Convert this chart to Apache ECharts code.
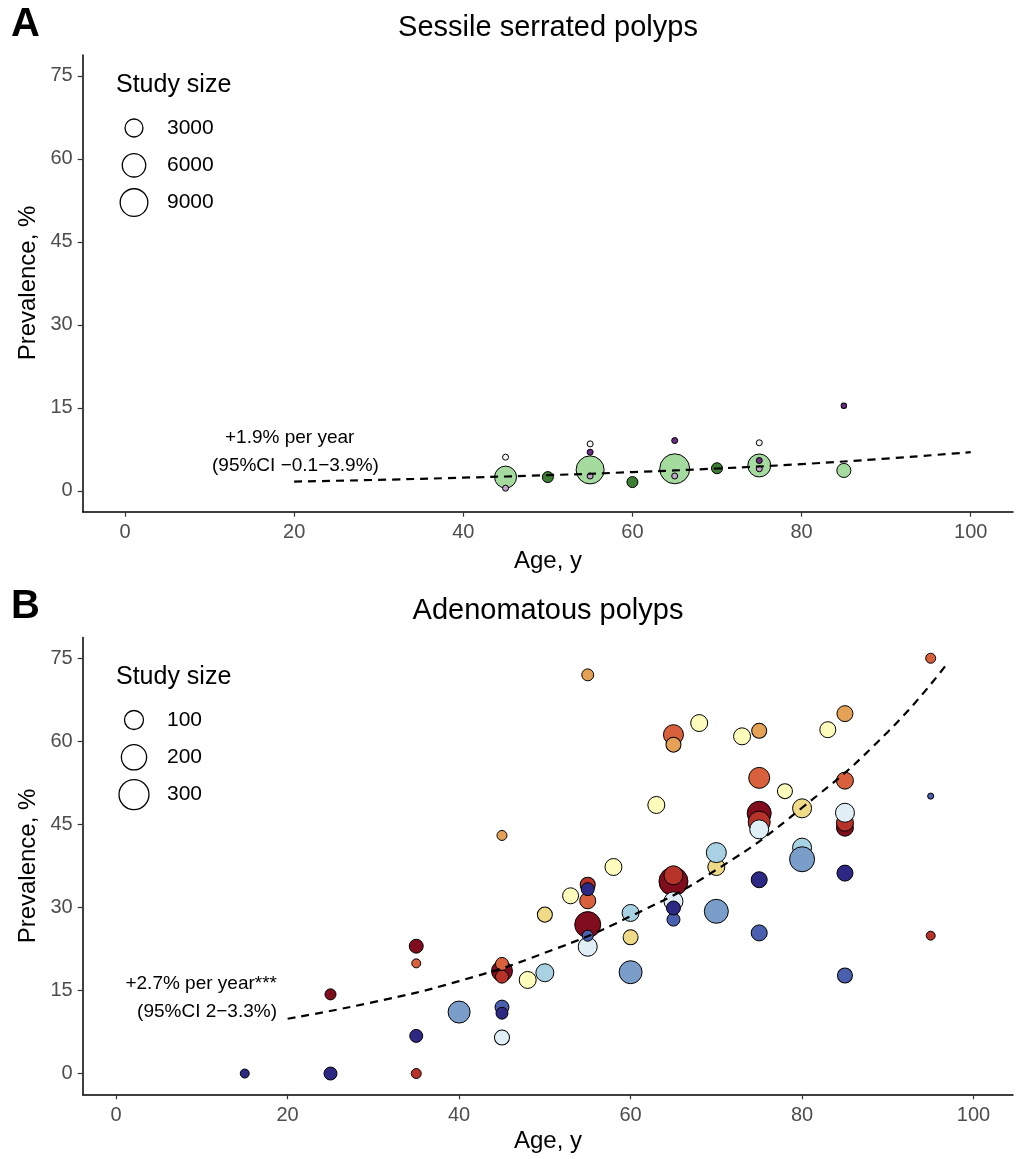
<!DOCTYPE html>
<html><head><meta charset="utf-8">
<script src="https://cdn.jsdelivr.net/npm/echarts@6/dist/echarts.min.js"></script>
<style>html,body{margin:0;padding:0;background:#fff}#c{width:1019px;height:1159px}</style>
</head><body><div id="c"></div>
<script>
// ---------- DATA ----------
// ticks
const xTicks = [0, 20, 40, 60, 80, 100];
const yTicks = [0, 15, 30, 45, 60, 75];
// Panel A: Sessile serrated polyps — [age, prevalence %, study size]
const sspLightGreen = [[45,2.5,5100],[55,3.8,9300],[65,4.0,10900],[75,4.6,5700],[85,3.7,1500]];
const sspDarkGreen  = [[50,2.5,680],[60,1.6,680],[70,4.1,680]];
const sspWhite      = [[45,6.1,30],[55,8.5,30],[75,8.7,30]];
const sspDarkPurple = [[55,7.0,30],[65,9.1,30],[75,5.5,30],[85,15.4,8]];
const sspLightPurple= [[45,0.5,30],[55,2.7,30],[65,2.7,30],[75,4.0,30]];
const sspTrendAge  = [20,30,40,50,60,70,80,90,100];
const sspTrendPrev = [1.7,2.0,2.4,2.85,3.4,4.05,4.85,5.85,7.0];
const sspLegendSizes = [3000, 6000, 9000];
// Panel B: Adenomatous polyps — [age, prevalence %, study size]
const adDarkRed   = [[25,14.3,22],[35,23.0,44],[45,18.5,128],[55,26.9,215],[65,34.7,278],[75,47.0,178],[85,44.4,75]];
const adRed       = [[35,0,16],[45,17.5,36],[55,34.1,54],[65,35.8,100],[75,45.4,144],[85,45.3,75],[95,24.9,11]];
const adOrangeRed = [[35,19.9,11],[45,19.8,36],[55,31.2,64],[65,61.2,114],[75,53.4,128],[85,52.9,75],[95,75.0,16]];
const adOrange    = [[45,43.0,16],[55,72.0,28],[65,59.4,54],[75,61.9,54],[85,65.0,64]];
const adGold      = [[50,28.7,54],[60,24.6,54],[70,37.3,75],[80,47.9,100]];
const adPaleYellow= [[48,16.9,75],[53,32.1,64],[58,37.3,75],[63,48.5,75],[68,63.3,75],[73,60.9,75],[78,51.0,54],[83,62.1,64]];
const adPaleBlue  = [[45,6.5,54],[55,22.9,100],[65,31.1,100],[75,44.1,100],[85,47.1,100]];
const adLightBlue = [[50,18.2,87],[60,29.0,75],[70,39.9,114],[80,40.8,100]];
const adMidBlue   = [[40,11.1,144],[60,18.3,160],[70,29.3,178],[80,38.7,196]];
const adBlue      = [[45,12.0,44],[55,24.9,22],[65,27.8,36],[75,25.4,64],[85,17.7,54],[95,50.1,2]];
const adNavy      = [[15,0,11],[25,0,36],[35,6.8,36],[45,10.9,28],[55,33.3,36],[65,29.9,44],[75,35.0,64],[85,36.2,64]];
const adTrendAge  = [20,30,40,50,60,70,80,90,97];
const adTrendPrev = [9.9,12.9,16.7,21.8,28.4,36.8,48.0,61.7,74.2];
const adLegendSizes = [100, 200, 300];

// ---------- STYLE ----------
const FONT = '"Liberation Sans", Arial, Helvetica, sans-serif';
const sizeA = n => 5.7 + 0.242 * Math.sqrt(n) - 1;
const sizeB = n => 5 + 1.5 * Math.sqrt(n) - 1;
const groupsA = [
  [sspLightGreen, '#a6dba0'], [sspDarkGreen, '#3b7d32'], [sspWhite, '#f7f7f7'],
  [sspDarkPurple, '#6a2c82'], [sspLightPurple, '#c2a5cf']
];
const groupsB = [
  [adDarkRed, '#800d1e'], [adRed, '#b7332a'], [adOrangeRed, '#d8603c'], [adOrange, '#e5a155'],
  [adGold, '#efda88'], [adPaleYellow, '#fdfcbc'], [adPaleBlue, '#dfeff5'], [adLightBlue, '#a9d1e4'],
  [adMidBlue, '#7b9dc9'], [adBlue, '#4a60ae'], [adNavy, '#2c2884']
];

function xAxisCfg(grid, min, max) {
  return {
    gridIndex: grid, type: 'value', min: min, max: max,
    axisLine: { show: true, onZero: false, lineStyle: { color: '#000', width: 1.5 } },
    axisTick: { show: true, length: 5, customValues: xTicks, lineStyle: { color: '#333', width: 1.2 } },
    axisLabel: { customValues: xTicks, fontSize: 20, color: '#4d4d4d', margin: 11, fontFamily: FONT },
    splitLine: { show: false }
  };
}
function yAxisCfg(grid) {
  return {
    gridIndex: grid, type: 'value', min: -3.75, max: 78.75,
    axisLine: { show: true, onZero: false, lineStyle: { color: '#000', width: 1.5 } },
    axisTick: { show: true, length: 5, customValues: yTicks, lineStyle: { color: '#333', width: 1.2 } },
    axisLabel: { customValues: yTicks, fontSize: 20, color: '#4d4d4d', margin: 10, fontFamily: FONT },
    splitLine: { show: false }
  };
}

const series = [];
groupsA.forEach(([d, c]) => series.push({
  type: 'scatter', xAxisIndex: 0, yAxisIndex: 0, data: d,
  symbolSize: v => sizeA(v[2]),
  itemStyle: { color: c, borderColor: '#000', borderWidth: 1, opacity: 1 },
  emphasis: { disabled: true }, silent: true, z: 2
}));
series.push({
  type: 'line', xAxisIndex: 0, yAxisIndex: 0,
  data: sspTrendAge.map((a, i) => [a, sspTrendPrev[i]]),
  smooth: true, showSymbol: false, symbol: 'none',
  lineStyle: { color: '#000', width: 2.2, type: [8, 6] }, z: 3, silent: true
});
groupsB.forEach(([d, c]) => series.push({
  type: 'scatter', xAxisIndex: 1, yAxisIndex: 1, data: d,
  symbolSize: v => sizeB(v[2]),
  itemStyle: { color: c, borderColor: '#000', borderWidth: 1, opacity: 1 },
  emphasis: { disabled: true }, silent: true, z: 2
}));
series.push({
  type: 'line', xAxisIndex: 1, yAxisIndex: 1,
  data: adTrendAge.map((a, i) => [a, adTrendPrev[i]]),
  smooth: true, showSymbol: false, symbol: 'none',
  lineStyle: { color: '#000', width: 2.2, type: [8, 6] }, z: 3, silent: true
});

function txt(x, y, s, size, opts) {
  return Object.assign({
    type: 'text', x: x, y: y, silent: true,
    style: Object.assign({ text: s, font: size + 'px ' + FONT, fill: '#000',
      textAlign: 'left', textVerticalAlign: 'middle' }, (opts && opts.style) || {})
  }, opts ? { rotation: opts.rotation || 0 } : {});
}
function legend(top, title, values, sizeFn) {
  const g = [txt(116, top, title, 25)];
  values.forEach((v, i) => {
    const cy = top + 43 + i * 37.3;
    g.push({ type: 'circle', silent: true, shape: { cx: 134, cy: cy, r: sizeFn(v) / 2 },
      style: { fill: '#fff', stroke: '#000', lineWidth: 1.3 } });
    g.push(txt(167, cy, String(v), 21));
  });
  return g;
}

const graphic = [
  txt(11, 25, 'A', 40, { style: { font: 'bold 40px ' + FONT } }),
  txt(11, 607, 'B', 40, { style: { font: 'bold 40px ' + FONT } }),
  txt(548, 28, 'Sessile serrated polyps', 29, { style: { textAlign: 'center' } }),
  txt(548, 611, 'Adenomatous polyps', 29, { style: { textAlign: 'center' } }),
  txt(548, 561, 'Age, y', 24, { style: { textAlign: 'center' } }),
  txt(548, 1141, 'Age, y', 24, { style: { textAlign: 'center' } }),
  txt(28, 283, 'Prevalence, %', 24, { rotation: Math.PI / 2, style: { textAlign: 'center' } }),
  txt(28, 866, 'Prevalence, %', 24, { rotation: Math.PI / 2, style: { textAlign: 'center' } }),
  txt(225, 438, '+1.9% per year', 19),
  txt(212, 466, '(95%CI \u22120.1\u22123.9%)', 19),
  txt(277, 984, '+2.7% per year***', 19, { style: { textAlign: 'right' } }),
  txt(277, 1012, '(95%CI 2\u22123.3%)', 19, { style: { textAlign: 'right' } })
].concat(legend(85, 'Study size', sspLegendSizes, sizeA))
 .concat(legend(677, 'Study size', adLegendSizes, sizeB));

const chart = echarts.init(document.getElementById('c'), null, { renderer: 'canvas' });
chart.setOption({
  backgroundColor: '#fff',
  animation: false,
  grid: [
    { left: 82.7, top: 55, width: 930.3, height: 456.7 },
    { left: 82.7, top: 637.5, width: 930.3, height: 456.8 }
  ],
  xAxis: [xAxisCfg(0, -5, 105), xAxisCfg(1, -3.9, 104.6)],
  yAxis: [yAxisCfg(0), yAxisCfg(1)],
  series: series,
  graphic: graphic
});
</script></body></html>
